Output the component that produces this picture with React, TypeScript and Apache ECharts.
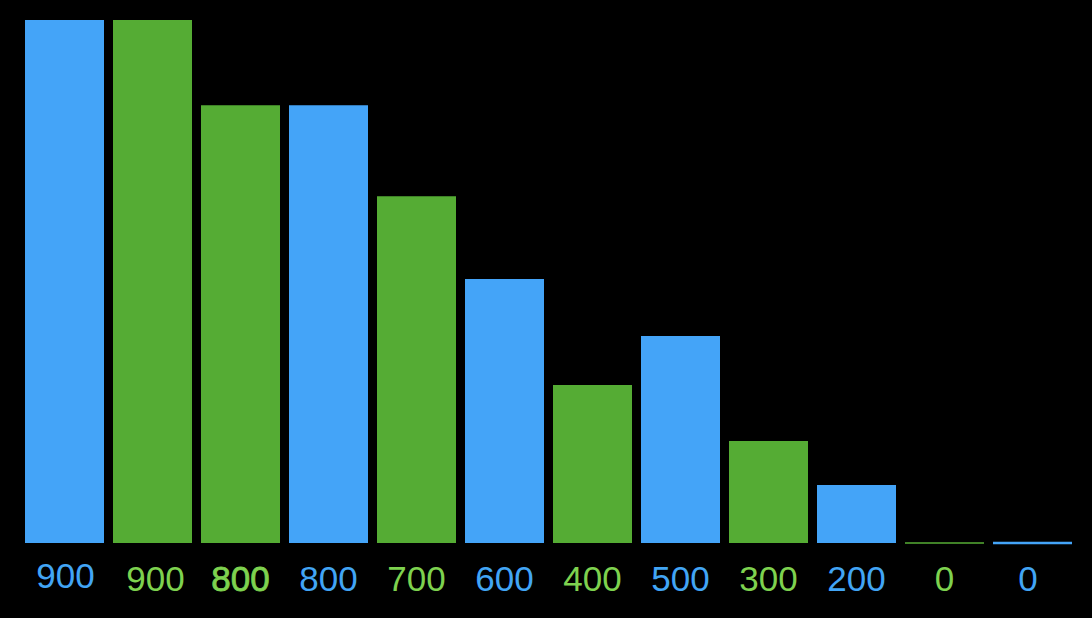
import React, { useEffect, useRef } from "react";
import * as echarts from "echarts";

// Category labels shown under each bar
const categories = ["900", "900", "800", "800", "700", "600", "400", "500", "300", "200", "0", "0"];
// Bar heights (max = 1000)
const values = [1000, 1000, 837, 837, 663, 505, 302, 396, 195, 111, 0, 0];
// Which colour group each bar belongs to
const groups = ["blue", "green", "green", "blue", "green", "blue", "green", "blue", "green", "blue", "green", "blue"];

const BAR_COLORS: Record<string, string> = { blue: "#44A4F8", green: "#55AC34" };
const LABEL_COLORS: Record<string, string> = { blue: "#42A5F5", green: "#7ED24F" };

export default function App() {
  const ref = useRef<HTMLDivElement>(null);
  useEffect(() => {
    document.body.style.margin = "0";
    document.body.style.background = "#000";
    const chart = echarts.init(ref.current!, undefined, { renderer: "svg" });
    const axisData = categories.map((c, i) => {
      const col = LABEL_COLORS[groups[i]];
      const ts: any = { color: col, lineHeight: 34 };
      if (i === 0) {
        ts.lineHeight = 29;
        ts.padding = [0, 0, 0, 2];
      }
      if (i === 1) ts.padding = [0, 0, 0, 6];
      if (i === 2) {
        ts.textBorderColor = col;
        ts.textBorderWidth = 0.8;
      }
      if (i === categories.length - 1) ts.padding = [0, 9, 0, 0];
      return { value: c, textStyle: ts };
    });
    const seriesData = values.map((v, i) => {
      const col = BAR_COLORS[groups[i]];
      const item: any = { value: v, itemStyle: { color: col } };
      if (v === 0) {
        item.itemStyle.borderColor = col;
        item.itemStyle.borderWidth = groups[i] === "blue" ? 2.5 : 1.5;
      }
      return item;
    });
    chart.setOption({
      animation: false,
      backgroundColor: "#000",
      grid: { left: 20.5, right: 15.5, top: 20, bottom: 75, containLabel: false },
      xAxis: {
        type: "category",
        data: axisData,
        axisLine: { show: false },
        axisTick: { show: false },
        axisLabel: {
          interval: 0,
          margin: 18,
          fontSize: 35,
          fontFamily: "Liberation Sans, Arial, sans-serif",
        },
      },
      yAxis: {
        type: "value",
        min: 0,
        max: 1000,
        show: false,
        splitLine: { show: false },
      },
      series: [
        {
          type: "bar",
          data: seriesData,
          barWidth: 79,
        },
      ],
    });
    return () => chart.dispose();
  }, []);
  return <div ref={ref} style={{ width: 1092, height: 618, background: "#000" }} />;
}
